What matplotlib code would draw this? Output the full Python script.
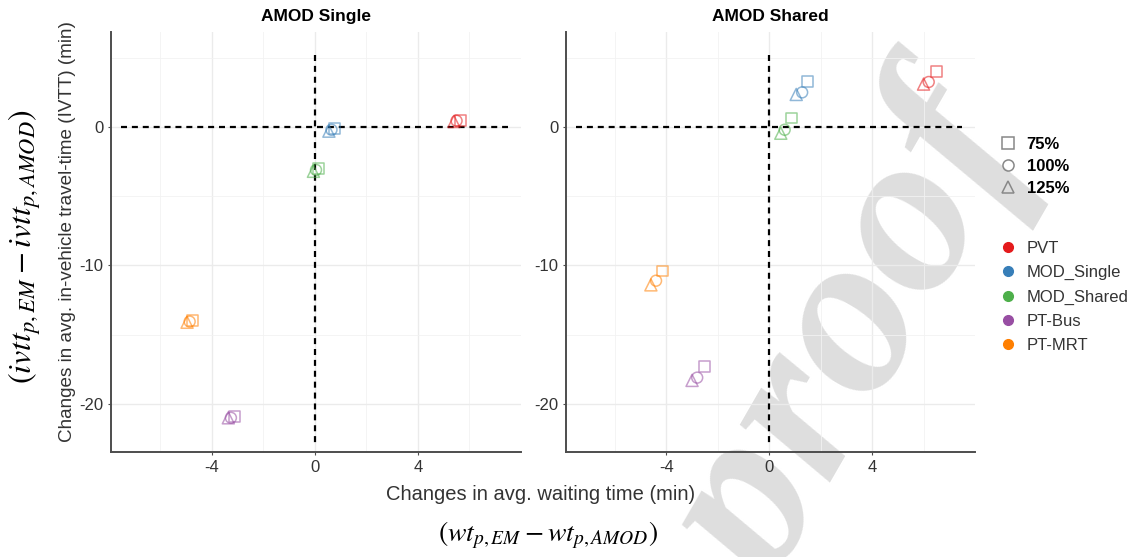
import numpy as np
import matplotlib
matplotlib.use("Agg")
import matplotlib.pyplot as plt
from matplotlib.lines import Line2D

plt.rcParams['font.family'] = ['Liberation Sans', 'DejaVu Sans']
plt.rcParams['mathtext.fontset'] = 'stix'
plt.rcParams['axes.unicode_minus'] = False

# modes and colours (Set1)
modes = ['PVT', 'MOD_Single', 'MOD_Shared', 'PT-Bus', 'PT-MRT']
colors = ['#E41A1C', '#377EB8', '#4DAF4A', '#984EA3', '#FF7F00']
levels = ['75%', '100%', '125%']
shapes = ['s', 'o', '^']

# AMOD Single: change in waiting time (x) and IVTT (y), rows = modes, cols = 75/100/125 %
single_wt = [[5.65, 5.5, 5.4],
             [0.75, 0.65, 0.55],
             [0.15, 0.05, -0.05],
             [-3.1, -3.25, -3.35],
             [-4.75, -4.85, -4.95]]
single_ivtt = [[0.5, 0.45, 0.4],
               [-0.1, -0.2, -0.3],
               [-3.0, -3.1, -3.2],
               [-20.9, -21.0, -21.0],
               [-14.0, -14.05, -14.1]]

# AMOD Shared
shared_wt = [[6.5, 6.2, 6.0],
             [1.48, 1.28, 1.05],
             [0.85, 0.6, 0.45],
             [-2.5, -2.8, -3.0],
             [-4.15, -4.4, -4.6]]
shared_ivtt = [[4.0, 3.25, 3.1],
               [3.3, 2.5, 2.35],
               [0.65, -0.2, -0.45],
               [-17.3, -18.1, -18.3],
               [-10.4, -11.1, -11.4]]

panels = [('AMOD Single', single_wt, single_ivtt),
          ('AMOD Shared', shared_wt, shared_ivtt)]

W, H = 1140, 557
fig = plt.figure(figsize=(W / 100, H / 100), dpi=100)

# watermark behind everything
fig.text(1030 / W, 1 - 138 / H, 'Journal Pre-proof', fontsize=168,
         family='Liberation Serif', style='italic', weight='bold',
         color='#dedede', rotation=60, rotation_mode='anchor',
         ha='right', va='baseline', zorder=-5)

boxes = [(111, 521), (566, 975)]
top_px, bot_px = 32, 452
axes = []
for (title, wt, ivtt), (l, r) in zip(panels, boxes):
    ax = fig.add_axes([l / W, 1 - bot_px / H, (r - l) / W, (bot_px - top_px) / H])
    ax.set_facecolor('none')
    ax.set_xlim(-7.9, 8.0)
    ax.set_ylim(-23.47, 6.86)
    ax.set_xticks([-4, 0, 4])
    ax.set_xticks([-6, -2, 2, 6], minor=True)
    ax.set_yticks([0, -10, -20])
    ax.set_yticks([5, -5, -15], minor=True)
    ax.grid(True, which='major', color='#ebebeb', lw=1.0, zorder=0)
    ax.grid(True, which='minor', color='#f2f2f2', lw=0.6, zorder=0)
    ax.set_axisbelow(True)
    for s in ['top', 'right']:
        ax.spines[s].set_visible(False)
    for s in ['left', 'bottom']:
        ax.spines[s].set_color('#4d4d4d')
        ax.spines[s].set_linewidth(1.4)
    ax.tick_params(which='major', length=2.5, color='#4d4d4d', labelsize=12,
                   labelcolor='#333333', pad=3)
    ax.tick_params(which='minor', length=0)
    ax.set_title(title, fontsize=12.5, weight='bold', pad=8)

    ax.plot([-7.5, 7.5], [0, 0], color='black', lw=1.6, ls=(0, (2.7, 2.2)), zorder=2)
    ax.plot([0, 0], [5.2, -23.1], color='black', lw=1.6, ls=(0, (2.7, 2.2)), zorder=2)

    for i, c in enumerate(colors):
        for j, m in enumerate(shapes):
            ax.scatter(wt[i][j], ivtt[i][j], marker=m, s=62 if m != '^' else 75,
                       facecolors='none', edgecolors=c, linewidths=1.1,
                       alpha=0.55, zorder=3)
    axes.append(ax)

# axis titles
fig.text(541 / W, 1 - 495 / H, 'Changes in avg. waiting time (min)', fontsize=14.5,
         color='#333333', ha='center', va='center')
fig.text(548 / W, 1 - 535 / H, r'$(wt_{p,EM} - wt_{p,AMOD})$', fontsize=20,
         ha='center', va='center')
fig.text(68 / W, 1 - 232 / H, 'Changes in avg. in-vehicle travel-time (IVTT) (min)',
         fontsize=13.6, color='#333333', rotation=90, ha='center', va='center')
fig.text(25 / W, 1 - 247 / H, r'$(ivtt_{p,EM} - ivtt_{p,AMOD})$', fontsize=23,
         rotation=90, ha='center', va='center')

# legends
shape_handles = [Line2D([], [], marker=m, ls='none', mfc='none', mec='#888888',
                        mew=1.1, ms=8) for m in shapes]
leg1 = fig.legend(shape_handles, levels, loc='upper left',
                  bbox_to_anchor=(1000 / W, 1 - 137 / H), frameon=False,
                  prop={'weight': 'bold', 'size': 12}, handlelength=1.0,
                  handletextpad=0.6, labelspacing=0.42, borderpad=0, borderaxespad=0)
color_handles = [Line2D([], [], marker='o', ls='none', mfc=c, mec=c, ms=7)
                 for c in colors]
leg2 = fig.legend(color_handles, modes, loc='upper left',
                  bbox_to_anchor=(1000 / W, 1 - 241 / H), frameon=False,
                  prop={'size': 12}, labelcolor='#333333', handlelength=1.0,
                  handletextpad=0.6, labelspacing=0.55, borderpad=0, borderaxespad=0)

fig.savefig('out.png', dpi=100)
